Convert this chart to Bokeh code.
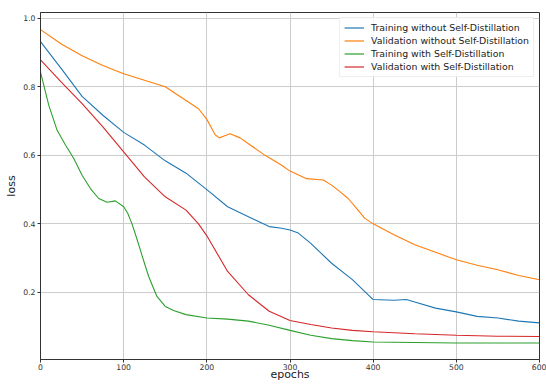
from bokeh.plotting import figure
from bokeh.models import Range1d, FixedTicker, Legend, LegendItem
from bokeh.embed import file_html
from bokeh.resources import INLINE

# ---- data ----
epochs_val_wo = [0, 25, 50, 75, 100, 125, 150, 175, 190, 200, 210, 215, 220, 228, 240, 250,
                 270, 290, 300, 320, 340, 350, 360, 370, 380, 390, 400, 425, 450, 475, 500,
                 525, 550, 575, 600]
val_wo = [0.967, 0.925, 0.891, 0.862, 0.838, 0.819, 0.800, 0.760, 0.736, 0.705, 0.660, 0.651,
          0.656, 0.663, 0.651, 0.634, 0.600, 0.571, 0.554, 0.532, 0.528, 0.513, 0.494, 0.474,
          0.445, 0.416, 0.400, 0.368, 0.339, 0.317, 0.295, 0.279, 0.266, 0.249, 0.237]

epochs_train_wo = [0, 25, 50, 75, 100, 125, 150, 175, 200, 225, 250, 275, 290, 300, 310, 325,
                   350, 375, 400, 425, 440, 450, 475, 500, 525, 550, 575, 600]
train_wo = [0.932, 0.853, 0.772, 0.717, 0.667, 0.630, 0.584, 0.548, 0.500, 0.450, 0.421, 0.392,
            0.387, 0.382, 0.373, 0.343, 0.285, 0.237, 0.179, 0.177, 0.179, 0.172, 0.154, 0.143,
            0.130, 0.125, 0.116, 0.111]

epochs_train_w = [0, 10, 20, 30, 40, 50, 60, 70, 80, 90, 100, 105, 110, 115, 120, 125, 130, 135,
                  140, 150, 160, 175, 200, 225, 250, 275, 300, 325, 350, 375, 400, 500, 600]
train_w = [0.843, 0.746, 0.673, 0.630, 0.591, 0.542, 0.503, 0.474, 0.463, 0.467, 0.450, 0.430,
           0.400, 0.363, 0.324, 0.285, 0.247, 0.217, 0.188, 0.159, 0.147, 0.135, 0.125, 0.122,
           0.116, 0.104, 0.089, 0.075, 0.065, 0.059, 0.055, 0.052, 0.052]

epochs_val_w = [0, 25, 50, 75, 100, 125, 150, 175, 190, 200, 225, 250, 275, 300, 325, 350, 375,
                400, 450, 500, 550, 600]
val_w = [0.879, 0.814, 0.751, 0.683, 0.610, 0.537, 0.479, 0.440, 0.400, 0.365, 0.261, 0.193,
         0.145, 0.118, 0.106, 0.096, 0.089, 0.085, 0.079, 0.075, 0.072, 0.071]

labels = ["Training without Self-Distillation", "Validation without Self-Distillation",
          "Training with Self-Distillation", "Validation with Self-Distillation"]
colors = ["#1f77b4", "#ff7f0e", "#2ca02c", "#d62728"]
x_ticks = [0, 100, 200, 300, 400, 500, 600]
y_ticks = [0.2, 0.4, 0.6, 0.8, 1.0]

FONT = "DejaVu Sans"

p = figure(width=546, height=385, output_backend="svg", toolbar_location=None,
           x_range=Range1d(0, 600), y_range=Range1d(0.004, 1.017),
           min_border_left=40, min_border_right=7, min_border_top=12, min_border_bottom=26)
p.background_fill_color = "white"
p.border_fill_color = "white"
p.outline_line_color = "#333333"
p.outline_line_width = 1

series = [(epochs_train_wo, train_wo), (epochs_val_wo, val_wo),
          (epochs_train_w, train_w), (epochs_val_w, val_w)]
items = []
for (xs, ys), c, lab in zip(series, colors, labels):
    p.line(xs, ys, line_color=c, line_width=1.1)
    # legend handle: drawn below the visible y-range, so only the legend shows it
    proxy = p.line([0, 1], [-1, -1], line_color=c, line_width=2, line_alpha=0.6)
    items.append(LegendItem(label=lab, renderers=[proxy]))

for ax in (p.xaxis[0], p.yaxis[0]):
    ax.major_label_text_font = FONT
    ax.major_label_text_font_size = "7.7px"
    ax.major_label_text_color = "#333333"
    ax.axis_label_text_font = FONT
    ax.axis_label_text_font_size = "11px"
    ax.axis_label_text_font_style = "normal"
    ax.axis_label_text_color = "#222222"
    ax.axis_line_color = "#333333"
    ax.major_tick_line_color = "#333333"
    ax.major_tick_out = 3
    ax.major_tick_in = 0
    ax.minor_tick_out = 0
    ax.minor_tick_in = 0

p.xaxis.major_label_standoff = 1
p.xaxis.axis_label_standoff = -5
p.yaxis.major_label_standoff = 2
p.yaxis.axis_label_standoff = 2

p.xaxis.axis_label = "epochs"
p.yaxis.axis_label = "loss"
p.xaxis.ticker = FixedTicker(ticks=x_ticks)
p.yaxis.ticker = FixedTicker(ticks=y_ticks)
p.xaxis.major_label_overrides = {t: str(t) for t in x_ticks}
p.yaxis.major_label_overrides = {t: f"{t:.1f}" for t in y_ticks}

p.grid.grid_line_color = "#cccccc"
p.grid.grid_line_width = 1

legend = Legend(items=items, location="top_right")
legend.label_text_font = FONT
legend.label_text_font_size = "9.4px"
legend.label_text_color = "#222222"
legend.glyph_width = 20
legend.glyph_height = 11
legend.label_height = 11
legend.spacing = 2
legend.padding = 4
legend.margin = 5
legend.label_standoff = 7
legend.border_line_color = "#dddddd"
legend.border_line_width = 1
legend.background_fill_alpha = 0.85
p.add_layout(legend)

open("out.html", "w").write(file_html(p, INLINE))
